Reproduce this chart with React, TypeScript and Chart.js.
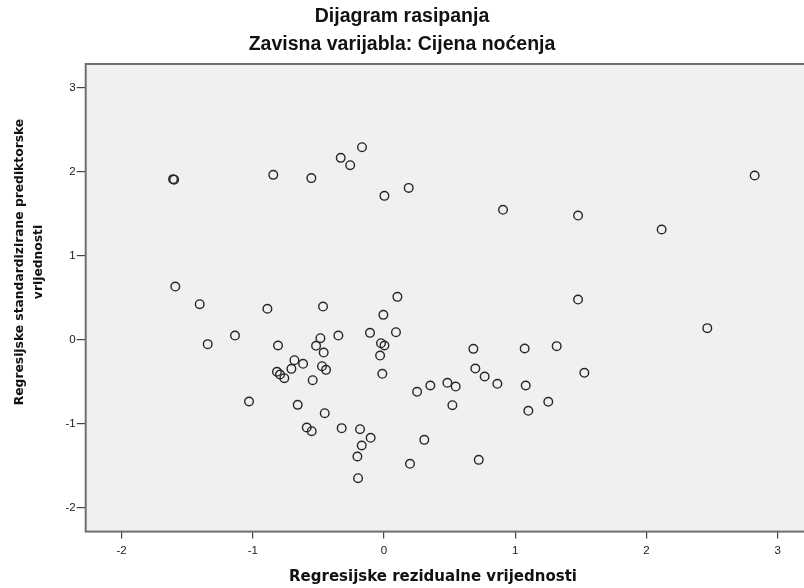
import React, { useEffect, useRef } from "react";
import { Chart, registerables } from "chart.js";

Chart.register(...registerables);

// Data (x: residual, y: standardized predicted)
const residualX: number[] = [
  -1.608, -1.6, -0.844, -0.554, -0.33, -0.258, -0.168, 0.003, 0.188, 0.907,
  1.479, 2.116, 2.825, -1.591, -1.405, -0.889, -0.465, 0.102, 1.479, -1.136,
  -1.344, -0.808, -0.485, -0.348, -0.518, -0.46, -0.683, -0.617, -0.706, -0.473,
  -0.442, -0.816, -0.793, -0.76, -0.544, -1.029, -0.658, -0.452, -0.589, -0.551,
  -0.323, -0.183, -0.102, -0.17, -0.203, -0.198, 0.307, 0.198, 0.722, -0.005,
  -0.107, 0.091, -0.023, 0.003, -0.03, -0.013, 0.681, 1.072, 1.316, 0.696,
  0.767, 0.864, 0.483, 0.546, 0.353, 0.252, 0.521, 1.08, 1.527, 1.252,
  1.1, 2.464,
];
const predictedY: number[] = [
  1.911, 1.905, 1.962, 1.923, 2.164, 2.077, 2.291, 1.712, 1.807, 1.546,
  1.478, 1.312, 1.954, 0.634, 0.424, 0.37, 0.396, 0.511, 0.479, 0.051,
  -0.051, -0.067, 0.02, 0.051, -0.071, -0.151, -0.242, -0.285, -0.345, -0.313,
  -0.357, -0.38, -0.412, -0.456, -0.48, -0.733, -0.773, -0.872, -1.042, -1.086,
  -1.05, -1.062, -1.165, -1.256, -1.387, -1.645, -1.189, -1.474, -1.427, 0.297,
  0.083, 0.091, -0.04, -0.067, -0.187, -0.404, -0.107, -0.103, -0.075, -0.341,
  -0.436, -0.523, -0.511, -0.555, -0.543, -0.618, -0.777, -0.543, -0.392, -0.737,
  -0.844, 0.139,
];

const xRange = [-2.274, 3.346];
const yRange = [-2.28, 3.28];
const tickStep = 1;

const chartTitle = "Dijagram rasipanja";
const chartSubtitle = "Zavisna varijabla: Cijena noćenja";
const xAxisTitle = "Regresijske rezidualne vrijednosti";
const yAxisTitleLines = ["Regresijske standardizirane prediktorske", "vrijednosti"];

const W = 830;
const H = 588;

const decorPlugin = {
  id: "decor",
  beforeDraw(chart: any) {
    const { ctx, chartArea: a } = chart;
    ctx.save();
    ctx.fillStyle = "#f0f0f0";
    ctx.fillRect(a.left, a.top, a.right - a.left, a.bottom - a.top);
    ctx.restore();
  },
  afterDraw(chart: any) {
    const { ctx, chartArea: a } = chart;
    ctx.save();
    ctx.strokeStyle = "#6e6e6e";
    ctx.lineWidth = 2;
    ctx.strokeRect(a.left, a.top, a.right - a.left, a.bottom - a.top);

    ctx.fillStyle = "#111";
    ctx.textAlign = "center";
    ctx.textBaseline = "alphabetic";
    ctx.font = 'bold 19.5px "Liberation Sans", Arial, sans-serif';
    ctx.fillText(chartTitle, 402, 22);
    ctx.fillText(chartSubtitle, 402, 50);

    ctx.font = 'bold 15px "DejaVu Sans", sans-serif';
    ctx.fillText(xAxisTitle, 433, 581);

    ctx.font = 'bold 12.3px "DejaVu Sans", sans-serif';
    ctx.textBaseline = "middle";
    ctx.translate(0, 262);
    ctx.rotate(-Math.PI / 2);
    ctx.fillText(yAxisTitleLines[0], 0, 20);
    ctx.fillText(yAxisTitleLines[1], 0, 39);
    ctx.restore();
  },
};

export default function App() {
  const ref = useRef<HTMLCanvasElement | null>(null);

  useEffect(() => {
    if (!ref.current) return;
    const points = residualX.map((x, i) => ({ x, y: predictedY[i] }));
    const tickFont = { family: '"Liberation Sans", Arial, sans-serif', size: 11.5 };
    const chart = new Chart(ref.current, {
      type: "scatter",
      data: {
        datasets: [
          {
            data: points,
            pointRadius: 4.3,
            pointBorderWidth: 1.4,
            pointBorderColor: "#262626",
            pointBackgroundColor: "rgba(0,0,0,0)",
            pointHoverRadius: 4.3,
          },
        ],
      },
      options: {
        responsive: false,
        animation: false,
        events: [],
        layout: { padding: { top: 64, right: W - 823, left: 0, bottom: 0 } },
        plugins: {
          legend: { display: false },
          tooltip: { enabled: false },
          title: { display: false },
        },
        scales: {
          x: {
            type: "linear",
            min: xRange[0],
            max: xRange[1],
            afterFit: (s: any) => {
              s.height = H - 531.6;
            },
            ticks: {
              stepSize: tickStep,
              includeBounds: false,
              font: tickFont,
              color: "#1a1a1a",
              padding: 5,
              maxRotation: 0,
            },
            grid: {
              drawOnChartArea: false,
              drawTicks: true,
              tickLength: 7,
              color: "#444",
              lineWidth: 1.2,
            },
            border: { display: false },
          },
          y: {
            type: "linear",
            min: yRange[0],
            max: yRange[1],
            afterFit: (s: any) => {
              s.width = 85.7;
            },
            ticks: {
              stepSize: tickStep,
              includeBounds: false,
              font: tickFont,
              color: "#1a1a1a",
              padding: 1,
            },
            grid: {
              drawOnChartArea: false,
              drawTicks: true,
              tickLength: 9,
              color: "#444",
              lineWidth: 1.2,
            },
            border: { display: false },
          },
        },
      },
      plugins: [decorPlugin],
    });
    return () => chart.destroy();
  }, []);

  return (
    <div
      style={{
        position: "fixed",
        left: 0,
        top: 0,
        width: 804,
        height: 588,
        overflow: "hidden",
        background: "#fff",
      }}
    >
      <canvas ref={ref} width={W} height={H} style={{ display: "block", width: W, height: H }} />
    </div>
  );
}
